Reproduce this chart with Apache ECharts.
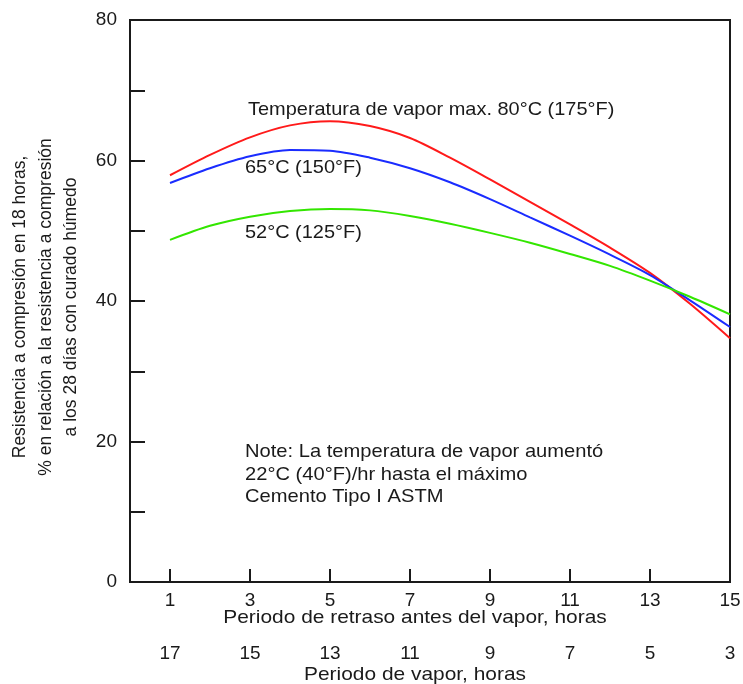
<!DOCTYPE html>
<html>
<head>
<meta charset="utf-8">
<script src="https://cdn.jsdelivr.net/npm/echarts@6/dist/echarts.min.js"></script>
<style>
  html, body { margin: 0; padding: 0; background: #fff; }
  #chart { width: 743px; height: 684px; }
</style>
</head>
<body>
<div id="chart"></div>
<script>
// Delay before steam (hours) and relative 18-hour strength (%) per max steam temperature
const delayHours = [1, 2, 3, 4, 5, 6, 7, 8, 9, 10, 11, 12, 13, 14, 15];
const strength80C = [57.9, 60.8, 63.3, 65.0, 65.6, 64.9, 63.2, 60.4, 57.3, 54.1, 50.9, 47.6, 44.0, 39.6, 34.7];
const strength65C = [56.8, 58.9, 60.6, 61.5, 61.4, 60.4, 58.9, 56.9, 54.5, 51.9, 49.3, 46.6, 43.7, 40.1, 36.3];
const strength52C = [48.7, 50.7, 52.0, 52.8, 53.1, 52.9, 52.1, 51.0, 49.7, 48.3, 46.7, 45.0, 42.9, 40.6, 38.1];

// Tick labels
const delayTicks = [1, 3, 5, 7, 9, 11, 13, 15];
const steamTicks = [17, 15, 13, 11, 9, 7, 5, 3];
const yTicks = [0, 20, 40, 60, 80];

const FONT = '"Liberation Sans", Arial, sans-serif';
const INK = '#1a1a1a';

const chart = echarts.init(document.getElementById('chart'), null, { renderer: 'canvas' });

function pairs(ys) {
  return delayHours.map((x, i) => [x, ys[i]]);
}

function lineSeries(name, ys, color) {
  return {
    name: name,
    type: 'line',
    xAxisIndex: 0,
    yAxisIndex: 0,
    data: pairs(ys),
    smooth: 0.3,
    symbol: 'none',
    lineStyle: { color: color, width: 2 },
    z: 3
  };
}

function caption(text, x, y, opts) {
  return Object.assign({
    type: 'text', x: x, y: y, scaleX: 1.05,
    style: { text: text, font: '19px ' + FONT, fill: INK, align: 'left', verticalAlign: 'middle' }
  }, opts || {});
}

chart.setOption({
  animation: false,
  backgroundColor: '#fff',
  grid: {
    left: 130, top: 20, width: 600, height: 562,
    outerBoundsMode: 'none',
    containLabel: false,
    show: true, borderColor: INK, borderWidth: 2, backgroundColor: 'transparent'
  },
  xAxis: [
    {
      type: 'value', min: 0, max: 15,
      position: 'bottom',
      axisLine: { show: true, lineStyle: { color: INK, width: 2 } },
      axisTick: { show: true, inside: true, length: 13, customValues: delayTicks, lineStyle: { color: INK, width: 2 } },
      axisLabel: { customValues: delayTicks, margin: 9, fontFamily: FONT, fontSize: 19, color: INK },
      splitLine: { show: false }
    },
    {
      type: 'value', min: 0, max: 15,
      position: 'bottom', offset: 53,
      axisLine: { show: false },
      axisTick: { show: false },
      axisLabel: {
        customValues: delayTicks, margin: 9, fontFamily: FONT, fontSize: 19, color: INK,
        formatter: v => String(steamTicks[delayTicks.indexOf(v)])
      },
      splitLine: { show: false }
    }
  ],
  yAxis: {
    type: 'value', min: 0, max: 80, interval: 10,
    axisLine: { show: true, lineStyle: { color: INK, width: 2 } },
    axisTick: { show: true, inside: true, length: 15, lineStyle: { color: INK, width: 2 } },
    axisLabel: {
      customValues: yTicks, margin: 13, fontFamily: FONT, fontSize: 19, color: INK
    },
    splitLine: { show: false }
  },
  series: [
    lineSeries('80°C (175°F)', strength80C, '#ff1a1a'),
    lineSeries('65°C (150°F)', strength65C, '#1a2cff'),
    lineSeries('52°C (125°F)', strength52C, '#33e600')
  ],
  graphic: [
    caption('Temperatura de vapor max. 80°C (175°F)', 248, 110),
    caption('65°C (150°F)', 245, 168),
    caption('52°C (125°F)', 245, 233),
    caption('Note: La temperatura de vapor aumentó', 245, 452, { scaleX: 1.06 }),
    caption('22°C (40°F)/hr hasta el máximo', 245, 475, { scaleX: 1.06 }),
    caption('Cemento Tipo I ASTM', 245, 497, { scaleX: 1.06 }),
    // x-axis titles
    {
      type: 'text', x: 415, y: 618, scaleX: 1.1,
      style: { text: 'Periodo de retraso antes del vapor, horas', font: '19px ' + FONT, fill: INK, align: 'center', verticalAlign: 'middle' }
    },
    {
      type: 'text', x: 415, y: 675, scaleX: 1.1,
      style: { text: 'Periodo de vapor, horas', font: '19px ' + FONT, fill: INK, align: 'center', verticalAlign: 'middle' }
    },
    // y-axis title
    {
      type: 'text', x: 46, y: 307, rotation: Math.PI / 2,
      style: {
        text: 'Resistencia a compresión en 18 horas,\n% en relación a la resistencia a compresión\na los 28 días con curado húmedo',
        font: '17.5px ' + FONT, fill: INK, align: 'center', verticalAlign: 'middle', lineHeight: 25.5
      }
    }
  ]
});
</script>
</body>
</html>
